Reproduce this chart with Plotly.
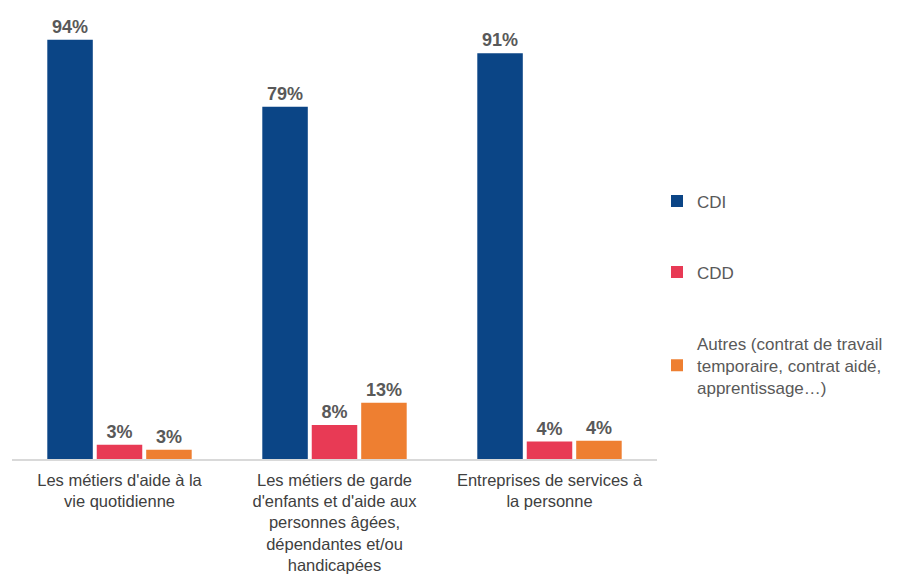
import plotly.graph_objects as go

categories = [
    "Les métiers d'aide à la<br>vie quotidienne",
    "Les métiers de garde<br>d'enfants et d'aide aux<br>personnes âgées,<br>dépendantes et/ou<br>handicapées",
    "Entreprises de services à<br>la personne",
]
series_names = [
    "CDI",
    "CDD",
    "Autres (contrat de travail<br>temporaire, contrat aidé,<br>apprentissage…)",
]
cdi = [94, 79, 91]
cdd = [3.2, 7.6, 3.9]
autres = [2.1, 12.6, 4.1]
cdi_labels = ["94%", "79%", "91%"]
cdd_labels = ["3%", "8%", "4%"]
autres_labels = ["3%", "13%", "4%"]
colors = ["#0b4586", "#e83a55", "#ee7f31"]

fig = go.Figure()
for i, (vals, labels) in enumerate([(cdi, cdi_labels), (cdd, cdd_labels), (autres, autres_labels)]):
    fig.add_trace(go.Bar(
        x=categories,
        y=vals,
        name=series_names[i],
        legendgroup=str(i),
        marker=dict(color=colors[i], line=dict(width=0)),
        text=labels,
        textposition="outside",
        cliponaxis=False,
        textfont=dict(family="Liberation Sans, Arial", size=18, color="#595959", weight="bold"),
    ))

fig.update_layout(
    width=900,
    height=578,
    barmode="group",
    bargap=0.31,
    bargroupgap=0.08,
    plot_bgcolor="white",
    paper_bgcolor="white",
    margin=dict(l=12, r=238, t=13, b=119),
    font=dict(family="Liberation Sans, Arial", size=17, color="#404040"),
    xaxis=dict(
        showline=True, linecolor="#d9d9d9", linewidth=1.5,
        ticks="", tickfont=dict(size=16.5, color="#404040"),
        ticklabelstandoff=5,
        automargin=False,
    ),
    yaxis=dict(range=[0, 100], visible=False),
    legend=dict(
        x=1.0, xanchor="left", y=0.618, yanchor="top",
        font=dict(size=17, color="#595959"),
        tracegroupgap=46,
        itemclick=False,
    ),
)

# drop the default page margin so the figure sits at the window origin
fig.write_html(
    "out.html",
    config={"displayModeBar": False},
    post_script="document.body.style.margin='0';",
)
